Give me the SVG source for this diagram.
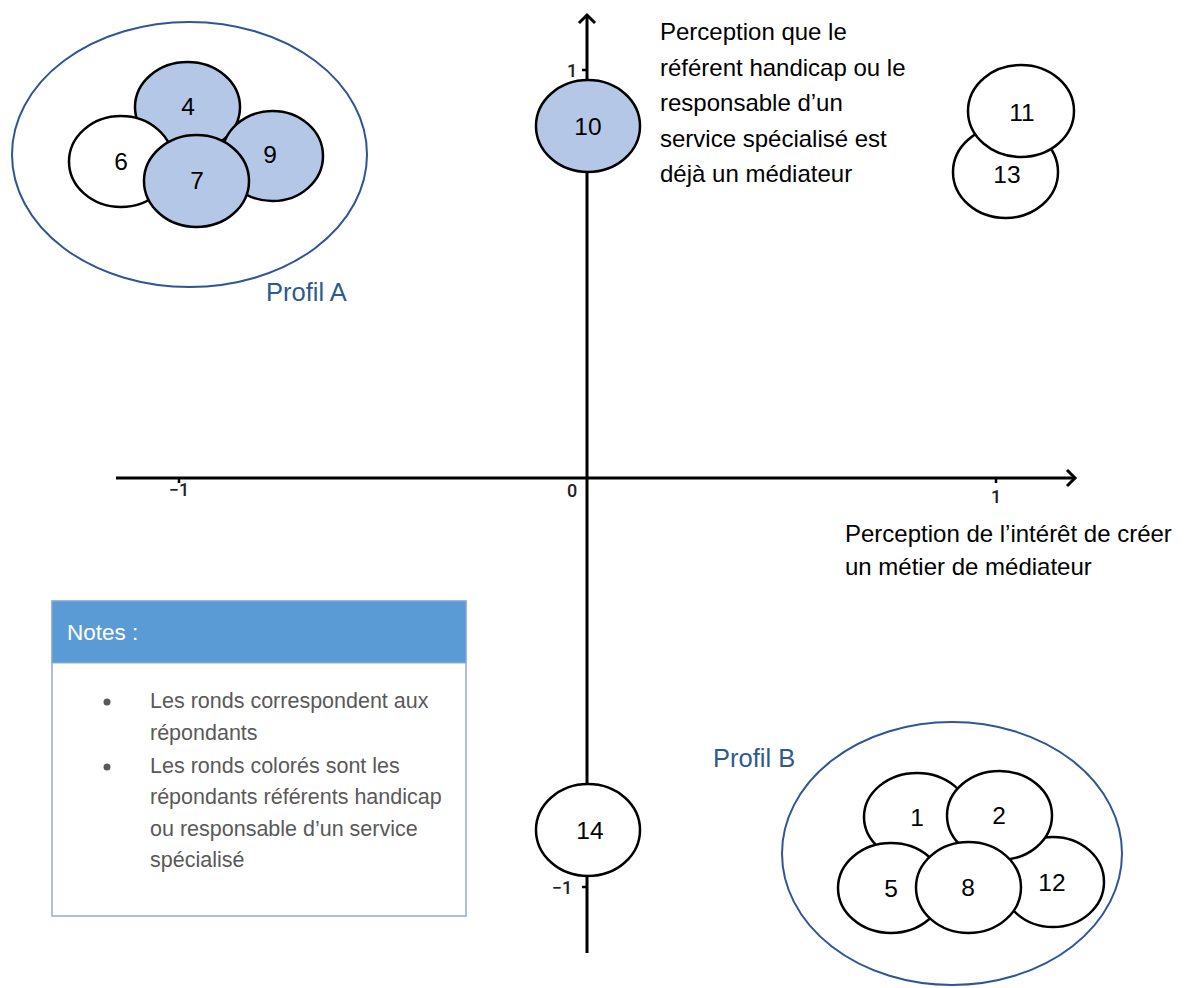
<svg xmlns="http://www.w3.org/2000/svg" width="1185" height="988" viewBox="0 0 1185 988">
<style>
  .r { stroke: #000; stroke-width: 2.5; fill: #fff; }
  .c { fill: #b4c7e7; }
  .num { font-family: "Liberation Sans", Arial, sans-serif; font-size: 24.5px; fill: #000; text-anchor: middle; }
  .prof { fill: none; stroke: #2f5597; stroke-width: 2; }
  .plab { font-family: "Liberation Sans", Arial, sans-serif; font-size: 25.5px; fill: #2e5a8c; }
  .body { font-family: "Liberation Sans", Arial, sans-serif; font-size: 24px; fill: #000; }
  .note { font-family: "Liberation Sans", Arial, sans-serif; font-size: 21.5px; fill: #595959; }
  .tick { font-family: Roboto, "Liberation Sans", sans-serif; font-size: 18px; font-weight: 500; fill: #222; text-anchor: middle; }
  .axis { stroke: #000; stroke-width: 3; fill: none; }
</style>
<defs>
  <marker id="arr" viewBox="0 0 20 20" refX="16" refY="10" markerWidth="20" markerHeight="20" markerUnits="userSpaceOnUse" orient="auto">
    <polyline points="8,2 16,10 8,18" fill="none" stroke="#000" stroke-width="3"/>
  </marker>
</defs>
<rect width="1185" height="988" fill="#fff"/>

<g id="connectors">
  <line class="axis" x1="116" y1="478" x2="1075" y2="478" marker-end="url(#arr)"/>
  <line class="axis" x1="587" y1="953" x2="587" y2="15" marker-end="url(#arr)"/>
  <g stroke="#000" stroke-width="2.5">
    <line x1="179" y1="478" x2="179" y2="483"/>
    <line x1="996" y1="478" x2="996" y2="483"/>
    <line x1="587" y1="70" x2="582" y2="70"/>
    <line x1="587" y1="887" x2="582" y2="887"/>
  </g>
  <text class="tick" x="179" y="496">−1</text>
  <text class="tick" x="572" y="497">0</text>
  <text class="tick" x="996" y="503">1</text>
  <text class="tick" x="572" y="77">1</text>
  <text class="tick" x="562" y="894">−1</text>
</g>

<g id="profil-a">
  <ellipse class="prof" cx="189.5" cy="154.5" rx="177.5" ry="132.5"/>
  <text class="plab" x="266" y="301">Profil A</text>
</g>
<g id="n4"><ellipse class="r c" cx="187.5" cy="107" rx="52.5" ry="45"/><text class="num" x="188" y="115">4</text></g>
<g id="n6"><ellipse class="r" cx="121" cy="161.5" rx="52" ry="45.5"/><text class="num" x="121" y="170">6</text></g>
<g id="n9"><ellipse class="r c" cx="272.5" cy="156" rx="50.5" ry="45"/><text class="num" x="270" y="163">9</text></g>
<g id="n7"><ellipse class="r c" cx="196.5" cy="181" rx="52.5" ry="46"/><text class="num" x="197" y="189">7</text></g>

<g id="n10"><ellipse class="r c" cx="588" cy="126" rx="52" ry="46"/><text class="num" x="588" y="135">10</text></g>

<g id="label-y">
  <text class="body" x="660" y="40">Perception que le</text>
  <text class="body" x="660" y="76">référent handicap ou le</text>
  <text class="body" x="660" y="111">responsable d’un</text>
  <text class="body" x="660" y="147">service spécialisé est</text>
  <text class="body" x="660" y="182">déjà un médiateur</text>
</g>

<g id="n13"><ellipse class="r" cx="1005.5" cy="172" rx="52.5" ry="46"/><text class="num" x="1007" y="183">13</text></g>
<g id="n11"><ellipse class="r" cx="1021" cy="111" rx="53" ry="46"/><text class="num" x="1022" y="121">11</text></g>

<g id="label-x">
  <text class="body" x="845" y="542">Perception de l’intérêt de créer</text>
  <text class="body" x="845" y="575">un métier de médiateur</text>
</g>

<g id="notes">
  <rect x="52" y="601" width="414" height="315" fill="#fff" stroke="#8eaadb" stroke-width="1.5"/>
  <rect x="52" y="601" width="414" height="62" fill="#5b9bd5" stroke="#8eaadb" stroke-width="1"/>
  <text x="67" y="640" font-family="'Liberation Sans', Arial, sans-serif" font-size="22.5px" fill="#fff">Notes :</text>
  <circle cx="107" cy="702" r="3.5" fill="#595959"/>
  <circle cx="107" cy="767" r="3.5" fill="#595959"/>
  <text class="note" x="150" y="708">Les ronds correspondent aux</text>
  <text class="note" x="150" y="740">répondants</text>
  <text class="note" x="150" y="773">Les ronds colorés sont les</text>
  <text class="note" x="150" y="804">répondants référents handicap</text>
  <text class="note" x="150" y="836">ou responsable d’un service</text>
  <text class="note" x="150" y="867">spécialisé</text>
</g>

<g id="n14"><ellipse class="r" cx="588" cy="830" rx="52" ry="46"/><text class="num" x="590" y="839">14</text></g>

<g id="profil-b">
  <ellipse class="prof" cx="952" cy="853.5" rx="170" ry="131.5"/>
  <text class="plab" x="713" y="767">Profil B</text>
</g>
<g id="n1"><ellipse class="r" cx="917" cy="817" rx="53" ry="44"/><text class="num" x="917" y="826">1</text></g>
<g id="n12"><ellipse class="r" cx="1053" cy="882" rx="51" ry="45"/><text class="num" x="1052" y="891">12</text></g>
<g id="n2"><ellipse class="r" cx="999.5" cy="815.5" rx="52.5" ry="44.5"/><text class="num" x="999" y="824">2</text></g>
<g id="n5"><ellipse class="r" cx="891" cy="888" rx="53" ry="45"/><text class="num" x="891" y="897">5</text></g>
<g id="n8"><ellipse class="r" cx="968.5" cy="887.5" rx="52.5" ry="45.5"/><text class="num" x="968" y="896">8</text></g>
</svg>
